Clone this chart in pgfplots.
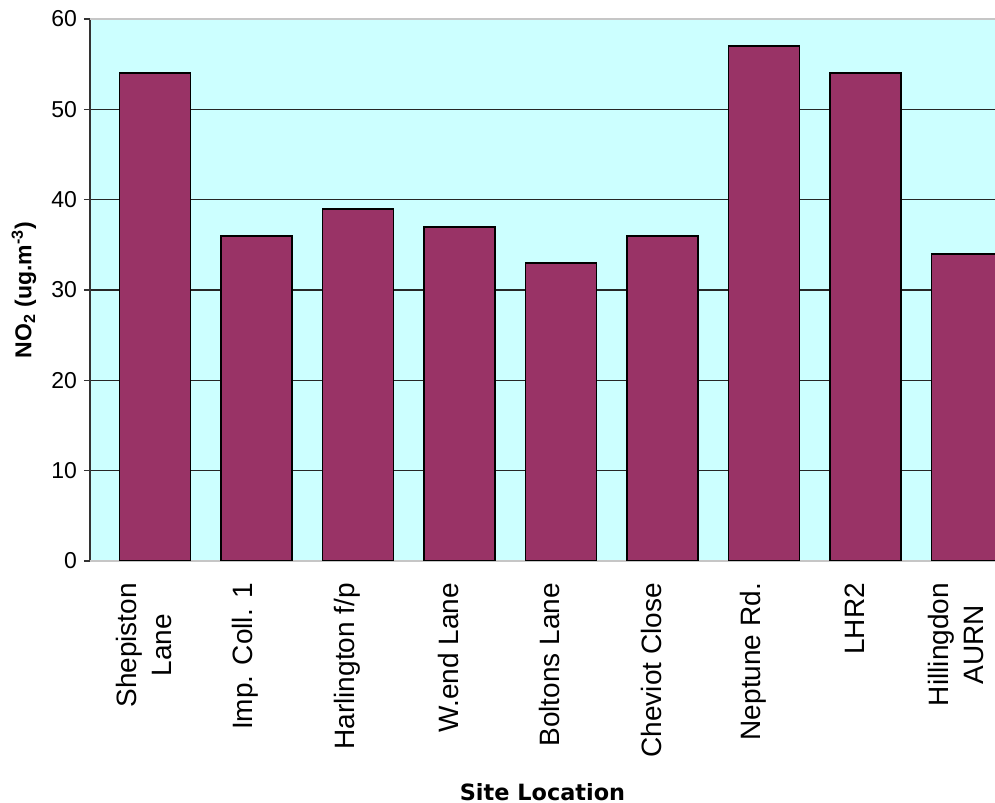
\documentclass[border=0pt]{standalone}
\usepackage{fontspec}
\setmainfont{Liberation Sans}
\newfontfamily\verdana{DejaVu Sans}
\usepackage{pgfplots}
\pgfplotsset{compat=1.18}
\definecolor{barfill}{HTML}{993366}
\definecolor{plotbg}{HTML}{CCFFFF}
\begin{document}
\begin{tikzpicture}
\begin{axis}[
  scale only axis, width=452.5pt, height=271pt,
  xmin=-0.640, xmax=8.276, ymin=0, ymax=60,
  axis background/.style={fill=plotbg},
  axis x line*=bottom, axis y line*=left,
  axis line style={-},
  x axis line style={draw=gray!70},
  y axis line style={draw=black!80, line width=0.8pt},
  ybar, bar width=35.5pt,
  ytick={10,20,30,40,50},
  extra y ticks={0,60},
  extra y tick style={grid style={draw=gray!45, line width=1pt}},
  ymajorgrids, grid style={draw=black!85, line width=0.6pt},
  ytick style={draw=black!80, line width=0.6pt},
  tick align=outside, major tick length=3pt,
  /pgf/number format/assume math mode=true,
  yticklabel style={font=\fontsize{11.5}{13}\selectfont},
  xtick={0,...,8},
  xticklabels={{Shepiston\\Lane},{Imp.  Coll. 1},{Harlington f/p},{W.end Lane},{Boltons Lane},{Cheviot  Close},{Neptune Rd.},{LHR2},{Hillingdon\\AURN}},
  x tick style={draw=none},
  xticklabel style={xshift=-5.5pt, yshift=-4.5pt, rotate=90, anchor=east, align=center, font=\fontsize{14}{17.5}\selectfont},
  every axis y label/.style={at={(axis description cs:-0.073,0.5)}, rotate=90, anchor=center},
  ylabel={\fontsize{11.5}{13}\selectfont\bfseries NO\textsubscript{2} (ug.m\textsuperscript{-3})},
  every axis x label/.style={at={(axis description cs:0.5,-0.426)}, anchor=center},
  xlabel={\verdana\fontsize{11.2}{13}\selectfont\bfseries Site Location},
]
\addplot[fill=barfill, draw=black, line width=0.8pt] coordinates {
(0,54) (1,36) (2,39) (3,37) (4,33) (5,36) (6,57) (7,54) (8,34)};
\coordinate (ll) at (rel axis cs:0,0);
\coordinate (ur) at (rel axis cs:1,1);
\end{axis}
\pgfresetboundingbox
\path ([shift={(-45pt,-121pt)}]ll) rectangle ([shift={(0pt,9.5pt)}]ur);
\end{tikzpicture}
\end{document}
